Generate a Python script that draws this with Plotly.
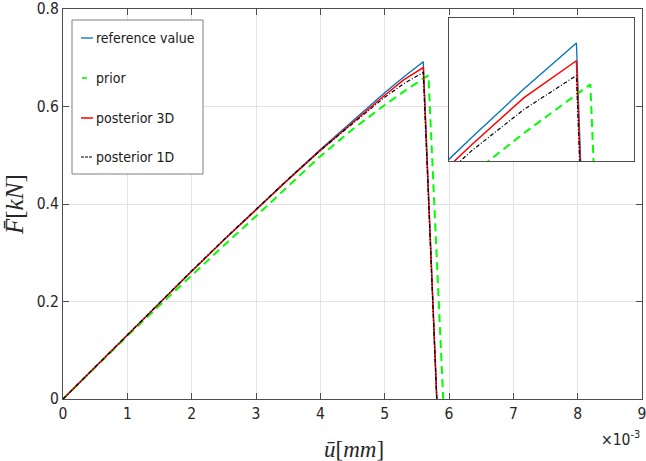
import plotly.graph_objects as go

# displacement in units of 1e-3 mm
u_ref = [0, 0.5, 1, 1.5, 2, 2.5, 3, 3.5, 4, 4.5, 5, 5.3, 5.6, 5.81]
F_ref = [0, 0.066, 0.132, 0.197, 0.262, 0.326, 0.389, 0.451, 0.512, 0.571, 0.628, 0.661, 0.692, 0]

u_prior = [0, 0.5, 1, 1.5, 2, 2.5, 3, 3.5, 4, 4.5, 5, 5.3, 5.68, 5.91]
F_prior = [0, 0.065, 0.129, 0.192, 0.254, 0.315, 0.375, 0.437, 0.498, 0.553, 0.603, 0.631, 0.664, 0]

u_post3 = [0, 0.5, 1, 1.5, 2, 2.5, 3, 3.5, 4, 4.5, 5, 5.3, 5.6, 5.81]
F_post3 = [0, 0.066, 0.132, 0.197, 0.262, 0.326, 0.389, 0.450, 0.510, 0.567, 0.623, 0.655, 0.680, 0]

u_post1 = [0, 0.5, 1, 1.5, 2, 2.5, 3, 3.5, 4, 4.5, 5, 5.3, 5.6, 5.81]
F_post1 = [0, 0.066, 0.132, 0.198, 0.263, 0.327, 0.390, 0.451, 0.510, 0.565, 0.619, 0.647, 0.670, 0]

series_names = ["reference value", "prior", "posterior 3D", "posterior 1D"]
x_ticks = [0, 1, 2, 3, 4, 5, 6, 7, 8, 9]
y_ticks = [0, 0.2, 0.4, 0.6, 0.8]
y_tick_text = ["0", "0.2", "0.4", "0.6", "0.8"]

styles = [
    dict(color="#0072BD", width=1.3),
    dict(color="#00FF00", width=2, dash="8px,5px"),
    dict(color="#FF0000", width=1.5),
    dict(color="#000000", width=1.2, dash="4px,2px,1px,2px"),
]
data = [(u_ref, F_ref), (u_prior, F_prior), (u_post3, F_post3), (u_post1, F_post1)]

fig = go.Figure()
for (xs, ys), name, st in zip(data, series_names, styles):
    fig.add_trace(go.Scatter(x=xs, y=ys, mode="lines", name=name, line=st,
                             showlegend=False, xaxis="x", yaxis="y"))
for (xs, ys), name, st in zip(data, series_names, styles):
    fig.add_trace(go.Scatter(x=xs, y=ys, mode="lines", name=name, line=st,
                             showlegend=False, xaxis="x2", yaxis="y2"))

W, H = 646, 461
L, R, T, B = 63, 4, 9, 62
pw, ph = W - L - R, H - T - B


def px(x):
    return (x - L) / pw


def py(y):
    return (H - B - y) / ph


axis_col = "#4d4d4d"
tick_font = dict(family="DejaVu Sans Condensed, DejaVu Sans", size=15.5, color="#262626")

fig.update_layout(
    width=W, height=H,
    margin=dict(l=L, r=R, t=T, b=B, autoexpand=False),
    paper_bgcolor="white", plot_bgcolor="white",
    showlegend=False,
    xaxis=dict(range=[0, 9], tickvals=x_ticks, ticktext=[str(v) for v in x_ticks],
               showgrid=True, gridcolor="#e3e3e3", gridwidth=1, zeroline=False,
               showline=True, linecolor=axis_col, linewidth=1, mirror="allticks",
               ticks="inside", ticklen=6, tickcolor=axis_col, tickfont=tick_font,
               ticklabeloverflow="allow", domain=[0, 1]),
    yaxis=dict(range=[0, 0.8], tickvals=y_ticks, ticktext=y_tick_text,
               showgrid=True, gridcolor="#e3e3e3", gridwidth=1, zeroline=False,
               showline=True, linecolor=axis_col, linewidth=1, mirror="allticks",
               ticks="inside", ticklen=6, tickcolor=axis_col, tickfont=tick_font,
               ticklabeloverflow="allow", domain=[0, 1]),
    xaxis2=dict(range=[4.87, 5.93], domain=[px(449), px(634)], anchor="y2",
                showgrid=False, zeroline=False, showticklabels=False, ticks="",
                showline=True, linecolor=axis_col, linewidth=1, mirror=True),
    yaxis2=dict(range=[0.612, 0.709], domain=[py(161), py(18)], anchor="x2",
                showgrid=False, zeroline=False, showticklabels=False, ticks="",
                showline=True, linecolor=axis_col, linewidth=1, mirror=True),
)

# manual legend (MATLAB style)
shapes = [dict(type="rect", xref="paper", yref="paper",
               x0=px(72), x1=px(203), y0=py(174), y1=py(20),
               line=dict(color="#7f7f7f", width=1), fillcolor="white", layer="above")]
entry_y = [38, 78, 118, 157]
sample_x = [(81, 93), (82, 87), (81, 93), (81, 93)]
annotations = []
for name, st, ey, (sx0, sx1) in zip(series_names, styles, entry_y, sample_x):
    ln = dict(color=st["color"], width=min(st["width"], 1.6))
    if name == "posterior 1D":
        ln["dash"] = "3px,1px"
    shapes.append(dict(type="line", xref="paper", yref="paper",
                       x0=px(sx0), x1=px(sx1), y0=py(ey), y1=py(ey), line=ln, layer="above"))
    annotations.append(dict(xref="paper", yref="paper", x=px(94), y=py(ey),
                            xanchor="left", yanchor="middle", showarrow=False,
                            text=name, font=dict(family="DejaVu Sans Condensed, DejaVu Sans",
                                                 size=14, color="#1a1a1a")))

annotations.append(dict(xref="paper", yref="paper", x=px(354), y=py(449),
                        xanchor="center", yanchor="middle", showarrow=False,
                        text="<i>u\u0304</i>[<i>mm</i>]",
                        font=dict(family="Liberation Serif, DejaVu Serif", size=23, color="#262626")))
annotations.append(dict(xref="paper", yref="paper", x=px(14), y=py(205),
                        xanchor="center", yanchor="middle", showarrow=False, textangle=-90,
                        text="<i>F\u0304</i>[<i>kN</i>]",
                        font=dict(family="Liberation Serif, DejaVu Serif", size=25, color="#262626")))
annotations.append(dict(xref="paper", yref="paper", x=px(642), y=py(438),
                        xanchor="right", yanchor="middle", showarrow=False,
                        text="\u00d710<sup>-3</sup>",
                        font=dict(family="DejaVu Sans Condensed, DejaVu Sans", size=15.5, color="#262626")))

fig.update_layout(shapes=shapes, annotations=annotations)
fig.write_html("out.html", config={"displayModeBar": False},
               post_script="document.body.style.margin='0';document.body.style.overflow='hidden';")
